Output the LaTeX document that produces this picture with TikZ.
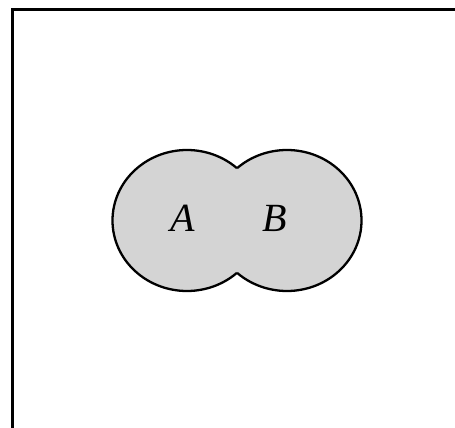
\documentclass[tikz,border=0pt]{standalone}
\usepackage{fontspec}
\setmainfont{Liberation Serif}
\begin{document}
\begin{tikzpicture}[x=1pt,y=-1pt,
  setfill/.style={fill=black!17},
  setline/.style={line width=2.3pt, draw=black},
  frameline/.style={line width=3pt, draw=black},
  setlabel/.style={font=\fontsize{40}{48}\selectfont\itshape, inner sep=0pt}]
\useasboundingbox (0,0) rectangle (455,428);
\coordinate (cA) at (187,220.5);
\coordinate (cB) at (287,220.5);
\coordinate (fbl) at (12.5,430);
\coordinate (ftl) at (12.5,9.5);
\coordinate (ftr) at (457,9.5);
\draw[frameline] (fbl) -- (ftl) -- (ftr);
\fill[setfill] (cA) ellipse [x radius=74.5pt, y radius=70.5pt];
\fill[setfill] (cB) ellipse [x radius=74.5pt, y radius=70.5pt];
\begin{scope}[even odd rule]
  \clip (0,0) rectangle (455,428) (cB) ellipse [x radius=74.5pt, y radius=70.5pt];
  \draw[setline] (cA) ellipse [x radius=74.5pt, y radius=70.5pt];
\end{scope}
\begin{scope}[even odd rule]
  \clip (0,0) rectangle (455,428) (cA) ellipse [x radius=74.5pt, y radius=70.5pt];
  \draw[setline] (cB) ellipse [x radius=74.5pt, y radius=70.5pt];
\end{scope}
\node[setlabel] (A) at (183,218) {A};
\node[setlabel] (B) at (275,218) {B};
\end{tikzpicture}
\end{document}
